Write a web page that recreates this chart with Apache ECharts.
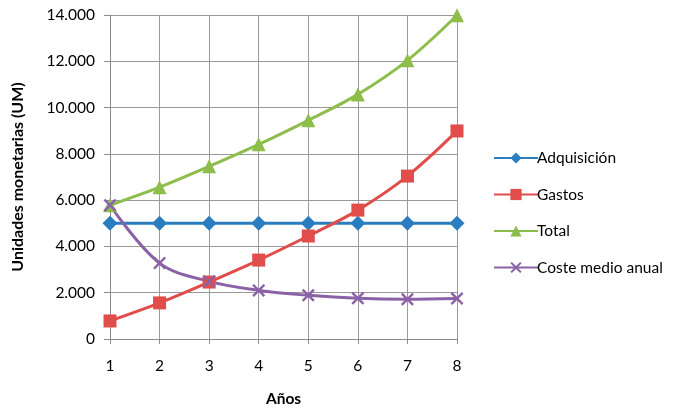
<!DOCTYPE html>
<html><head><meta charset="utf-8">
<script src="https://cdn.jsdelivr.net/npm/echarts@6/dist/echarts.min.js"></script>
<style>html,body{margin:0;padding:0;background:#fff}#c{width:694px;height:408px}</style>
</head><body><div id="c"></div>
<script>
const years = ['1','2','3','4','5','6','7','8'];
const adquisicion = [5000,5000,5000,5000,5000,5000,5000,5000];
const gastos = [780,1560,2460,3410,4450,5570,7040,8990];
const total = [5780,6560,7460,8410,9450,10570,12040,13990];
const costeMedio = [5780,3280,2490,2100,1890,1760,1720,1750];
const yTicks = {min:0, max:14000, interval:2000};

const font = 'Lato, "Open Sans", sans-serif';
const xPath = 'path://M0,1.3L1.3,0L5,3.7L8.7,0L10,1.3L6.3,5L10,8.7L8.7,10L5,6.3L1.3,10L0,8.7L3.7,5Z';
function fmt(v){return String(v).replace(/\B(?=(\d{3})+(?!\d))/g,'.');}
function line(name,data,color,symbol,size){
  return {name,type:'line',data,smooth:0.35,symbol,symbolSize:size,
    lineStyle:{color,width:3},itemStyle:{color},emphasis:{disabled:true},z:2};
}
const chart = echarts.init(document.getElementById('c'));
chart.setOption({
  animation:false,
  textStyle:{fontFamily:font},
  grid:{left:110,right:237,top:15,bottom:69,containLabel:false,outerBoundsMode:'none'},
  legend:{orient:'vertical',left:488,top:145,itemGap:20.5,itemWidth:44,itemHeight:14,
    textStyle:{fontSize:15.5,color:'#000',fontFamily:font,padding:[0,0,0,-6]},
    data:['Adquisición','Gastos','Total','Coste medio anual']},
  xAxis:{type:'category',data:years,boundaryGap:false,
    name:'Años',nameLocation:'middle',nameGap:52,
    nameTextStyle:{fontSize:15.5,fontWeight:'bold',color:'#000',fontFamily:font},
    axisLine:{lineStyle:{color:'#8c8c8c',width:1}},
    axisTick:{show:true,length:5,lineStyle:{color:'#8c8c8c'}},
    axisLabel:{fontSize:15.5,color:'#000',margin:19},
    splitLine:{show:true,lineStyle:{color:'#9a9a9a',width:1}}},
  yAxis:{type:'value',min:yTicks.min,max:yTicks.max,interval:yTicks.interval,
    name:'Unidades monetarias (UM)',nameLocation:'middle',nameGap:84,
    nameTextStyle:{fontSize:16,fontWeight:'bold',color:'#000',fontFamily:font},
    axisLine:{show:true,lineStyle:{color:'#8c8c8c',width:1}},
    axisTick:{show:true,length:6,lineStyle:{color:'#8c8c8c'}},
    axisLabel:{fontSize:15.5,color:'#000',margin:15,formatter:fmt},
    splitLine:{show:true,lineStyle:{color:'#9a9a9a',width:1}}},
  series:[
    line('Adquisición',adquisicion,'#2A7EC0','diamond',15),
    line('Gastos',gastos,'#E04D4A','rect',13),
    line('Total',total,'#8DBD4B','triangle',14),
    line('Coste medio anual',costeMedio,'#8B62A8',xPath,13)
  ]
});
</script></body></html>
